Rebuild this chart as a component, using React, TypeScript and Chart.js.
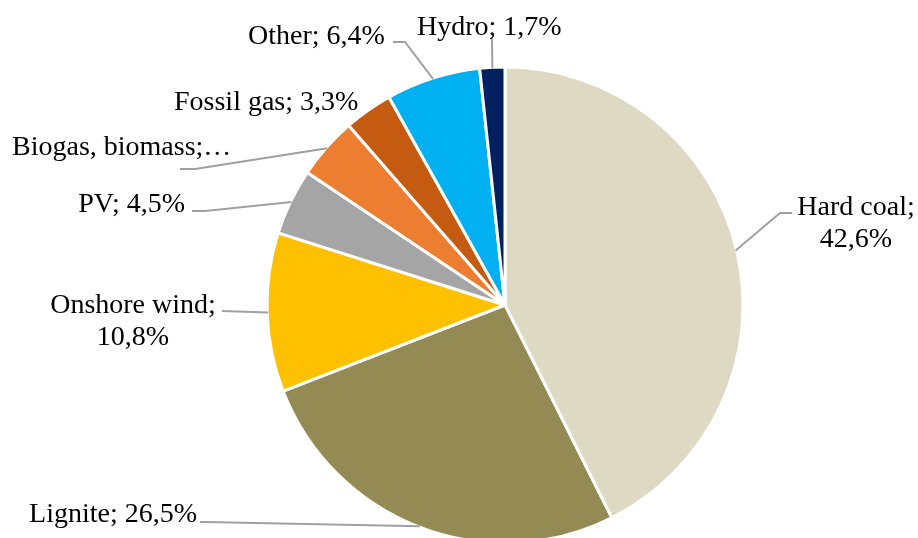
import React, { useEffect, useRef } from "react";
import { Chart, registerables } from "chart.js";

Chart.register(...registerables);

const categories = ["Hard coal", "Lignite", "Onshore wind", "PV", "Biogas, biomass", "Fossil gas", "Other", "Hydro"];
const shares = [42.6, 26.5, 10.8, 4.5, 4.2, 3.3, 6.4, 1.7];
const colors = ["#DDD9C3", "#948A54", "#FFC000", "#A5A5A5", "#ED7D31", "#C55A11", "#00B0F0", "#002060"];

// label text lines (Excel-style, comma decimal)
const fmt = (v: number) => v.toFixed(1).replace(".", ",") + "%";
const labelLines: string[][] = [
  [categories[0] + ";", fmt(shares[0])],
  [categories[1] + "; " + fmt(shares[1])],
  [categories[2] + ";", fmt(shares[2])],
  [categories[3] + "; " + fmt(shares[3])],
  [categories[4] + ";…"],
  [categories[5] + "; " + fmt(shares[5])],
  [categories[6] + "; " + fmt(shares[6])],
  [categories[7] + "; " + fmt(shares[7])],
];

// label layout: text anchor x, first baseline y, alignment, leader path (after edge point)
type LabelLayout = { x: number; y: number; align: CanvasTextAlign; path: [number, number][] };
const labelLayout: LabelLayout[] = [
  { x: 856, y: 215, align: "center", path: [[780, 213], [792, 213]] },
  { x: 197, y: 522, align: "right", path: [[205, 522], [200, 522]] },
  { x: 133, y: 313, align: "center", path: [[222, 311]] },
  { x: 185, y: 212, align: "right", path: [[205, 211], [192, 211]] },
  { x: 12, y: 155, align: "left", path: [[195, 169], [180, 169]] },
  { x: 174, y: 110, align: "left", path: [] },
  { x: 248, y: 44, align: "left", path: [[405, 42], [393, 42]] },
  { x: 417, y: 35, align: "left", path: [[492, 38]] },
];

const FONT = '28px "Liberation Serif", "Times New Roman", serif';
const LINE_H = 32;

const labelPlugin = {
  id: "excelLabels",
  afterDatasetsDraw(chart: any) {
    const ctx = chart.ctx as CanvasRenderingContext2D;
    const meta = chart.getDatasetMeta(0);
    ctx.save();
    meta.data.forEach((arc: any, i: number) => {
      const lay = labelLayout[i];
      const mid = (arc.startAngle + arc.endAngle) / 2;
      const r = arc.outerRadius - 1;
      const ex = arc.x + r * Math.cos(mid);
      const ey = arc.y + r * Math.sin(mid);
      if (lay.path.length) {
        ctx.beginPath();
        ctx.strokeStyle = "#A0A0A0";
        ctx.lineWidth = 2;
        ctx.moveTo(ex, ey);
        lay.path.forEach(([px, py]) => ctx.lineTo(px, py));
        ctx.stroke();
      }
      ctx.font = FONT;
      ctx.fillStyle = "#000000";
      ctx.textAlign = lay.align;
      ctx.textBaseline = "alphabetic";
      labelLines[i].forEach((line, k) => {
        ctx.fillText(line, lay.x, lay.y + k * LINE_H);
      });
    });
    ctx.restore();
  },
};

export default function App() {
  const ref = useRef<HTMLCanvasElement>(null);
  useEffect(() => {
    if (!ref.current) return;
    const chart = new Chart(ref.current, {
      type: "pie",
      data: {
        labels: categories,
        datasets: [
          {
            data: shares,
            backgroundColor: colors,
            borderColor: "#FFFFFF",
            borderWidth: 3,
            radius: 238,
          } as any,
        ],
      },
      options: {
        responsive: false,
        animation: false,
        layout: { padding: { top: 72, bottom: 0, left: 92, right: 0 } },
        plugins: {
          legend: { display: false },
          tooltip: { enabled: false },
        },
      },
      plugins: [labelPlugin],
    });
    return () => chart.destroy();
  }, []);
  return (
    <div style={{ position: "fixed", left: 0, top: 0, width: 918, height: 538, background: "#fff", overflow: "hidden" }}>
      <canvas ref={ref} width={918} height={538} style={{ width: 918, height: 538, display: "block" }} />
    </div>
  );
}
